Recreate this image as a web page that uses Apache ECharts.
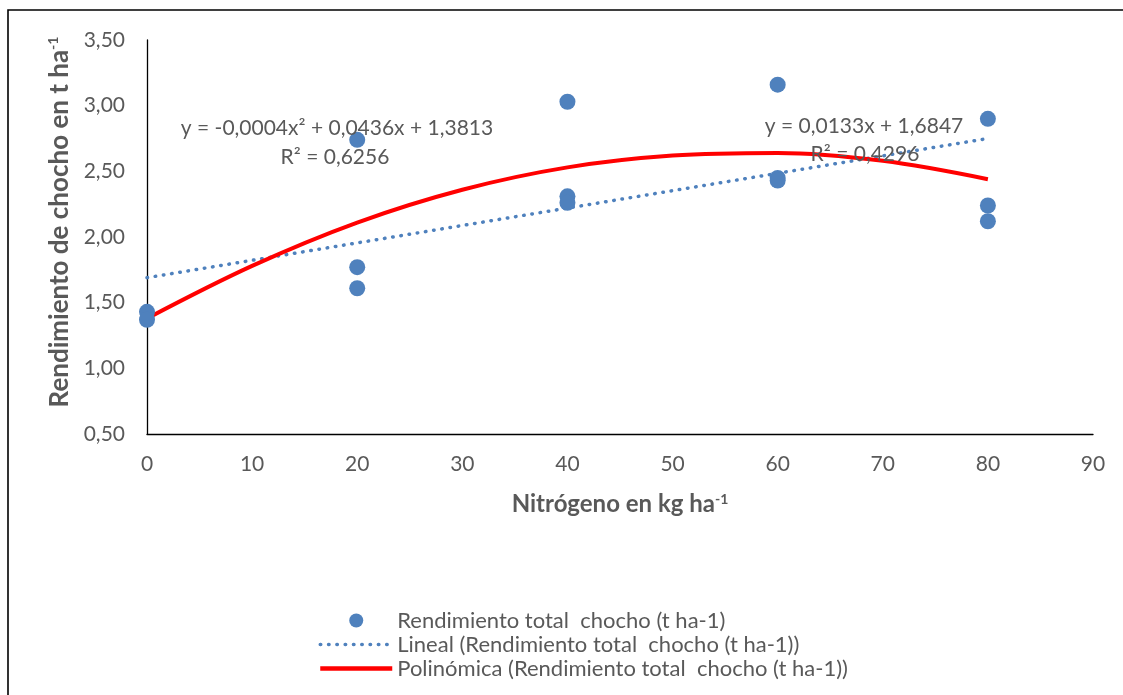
<!DOCTYPE html>
<html>
<head>
<meta charset="utf-8">
<script src="https://cdn.jsdelivr.net/npm/echarts@6/dist/echarts.min.js"></script>
<style>
  html, body { margin: 0; padding: 0; background: #fff; }
  #chart { width: 1123px; height: 695px; }
</style>
</head>
<body>
<div id="chart"></div>
<script>
// puntos observados
const nitrogen = [0, 0, 20, 20, 20, 40, 40, 40, 60, 60, 60, 80, 80, 80]
const yieldT = [1.43, 1.37, 2.74, 1.77, 1.61, 3.03, 2.31, 2.26, 3.16, 2.45, 2.43, 2.90, 2.24, 2.12]

// tendencia lineal
const linX = [0, 80]
const linY = [1.69, 2.75]

// tendencia polinomica
const polyX = [0, 10, 20, 30, 40, 50, 60, 70, 80]
const polyY = [1.38, 1.78, 2.11, 2.36, 2.53, 2.62, 2.64, 2.58, 2.44]

const names = [
  'Rendimiento total  chocho (t ha-1)',
  'Lineal (Rendimiento total  chocho (t ha-1))',
  'Polinómica (Rendimiento total  chocho (t ha-1))'
]

const FONT = 'Lato'
const GREY = '#595959'
const BLUE = '#4f81bd'
const RED = '#ff0000'
const DOTS = [0.5, 7.8]

const zip = (a, b) => a.map((v, i) => [v, b[i]])

const titleRich = size => ({
  b: { fontFamily: FONT, fontSize: size, fontWeight: 'bold', color: GREY },
  s: { fontFamily: FONT, fontSize: 14, fontWeight: 'bold', color: GREY, verticalAlign: 'top', padding: [0, 0, 10, 0] }
})

const eqStyle = { fill: GREY, fontSize: 21, fontFamily: FONT, align: 'center', verticalAlign: 'middle' }

const chart = echarts.init(document.getElementById('chart'), null, { renderer: 'canvas' })

chart.setOption({
  backgroundColor: '#fff',
  animation: false,
  textStyle: { fontFamily: FONT },
  grid: { left: 147, right: 30, top: 40, bottom: 261 },
  xAxis: {
    type: 'value',
    min: 0,
    max: 90,
    interval: 10,
    name: '{b|Nitrógeno en kg ha}{s|-1}',
    nameLocation: 'middle',
    nameGap: 58,
    nameTextStyle: { rich: titleRich(24) },
    axisLine: { lineStyle: { color: '#000', width: 1.3 } },
    axisTick: { show: false },
    splitLine: { show: false },
    axisLabel: { color: GREY, fontSize: 21, margin: 20, fontFamily: FONT }
  },
  yAxis: {
    type: 'value',
    min: 0.5,
    max: 3.5,
    interval: 0.5,
    name: '{b|Rendimiento de chocho en t ha}{s|-1}',
    nameLocation: 'middle',
    nameRotate: 90,
    nameGap: 74,
    nameTextStyle: { rich: titleRich(26), padding: [0, 0, 0, 30] },
    axisLine: { show: true, lineStyle: { color: '#000', width: 1.3 } },
    axisTick: { show: false },
    splitLine: { show: false },
    axisLabel: {
      color: GREY, fontSize: 21, margin: 22, fontFamily: FONT,
      formatter: v => v.toFixed(2).replace('.', ',')
    }
  },
  legend: {
    orient: 'vertical',
    left: 318,
    top: 609,
    padding: 0,
    itemWidth: 72,
    itemHeight: 14,
    itemGap: 1,
    data: [
      { name: names[0] },
      { name: names[1], itemStyle: { opacity: 0 }, lineStyle: { color: BLUE, width: 3.5, type: DOTS, cap: 'round' } },
      { name: names[2], itemStyle: { opacity: 0 }, lineStyle: { color: RED, width: 4.5 } }
    ],
    textStyle: { color: GREY, fontSize: 22, fontFamily: FONT, lineHeight: 23 }
  },
  series: [
    {
      name: names[1],
      type: 'line',
      data: zip(linX, linY),
      symbol: 'none',
      lineStyle: { color: BLUE, width: 3.5, type: DOTS, cap: 'round' },
      itemStyle: { color: BLUE },
      z: 3
    },
    {
      name: names[2],
      type: 'line',
      data: zip(polyX, polyY),
      smooth: 0.35,
      symbol: 'none',
      lineStyle: { color: RED, width: 4 },
      itemStyle: { color: RED },
      z: 4
    },
    {
      name: names[0],
      type: 'scatter',
      data: zip(nitrogen, yieldT),
      symbolSize: 16,
      itemStyle: { color: BLUE, opacity: 1 },
      z: 5
    }
  ],
  graphic: [
    // marco del area del grafico
    {
      type: 'polyline',
      shape: { points: [[8, 695], [8, 10], [1123, 10]] },
      style: { stroke: '#000', lineWidth: 1.6, fill: null },
      silent: true
    },
    { type: 'text', x: 337, y: 128, style: Object.assign({ text: 'y = -0,0004x² + 0,0436x + 1,3813' }, eqStyle), z: 10 },
    { type: 'text', x: 335, y: 157, style: Object.assign({ text: 'R² = 0,6256' }, eqStyle), z: 10 },
    { type: 'text', x: 864, y: 126, style: Object.assign({ text: 'y = 0,0133x + 1,6847' }, eqStyle), z: 10 },
    { type: 'text', x: 865, y: 154, style: Object.assign({ text: 'R² = 0,4296' }, eqStyle), z: 10 }
  ]
})
</script>
</body>
</html>
